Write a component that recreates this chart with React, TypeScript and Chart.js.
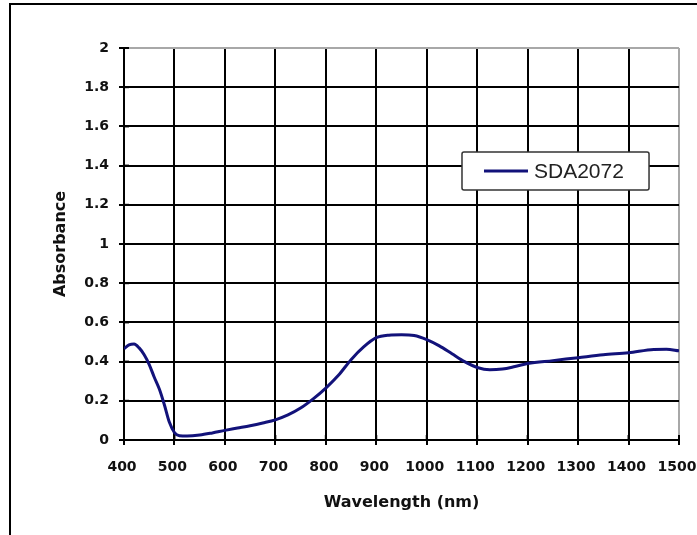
import React, { useEffect, useRef } from 'react';
import { Chart, registerables } from 'chart.js';

Chart.register(...registerables);

const seriesLabel = 'SDA2072';
const xAxisTitle = 'Wavelength (nm)';
const yAxisTitle = 'Absorbance';

const wavelengths = [
  400, 410, 420, 430, 440, 450, 460, 470, 480, 490, 500, 510, 525, 550, 575, 600, 625, 650, 675, 700,
  725, 750, 775, 800, 825, 850, 875, 900, 925, 950, 975, 1000, 1025, 1050, 1075, 1100, 1125, 1150,
  1175, 1200, 1250, 1300, 1350, 1400, 1450, 1475, 1500,
];
const absorbance = [
  0.465, 0.485, 0.49, 0.47, 0.435, 0.385, 0.32, 0.26, 0.18, 0.09, 0.038, 0.022, 0.02, 0.025, 0.036, 0.049,
  0.061, 0.073, 0.087, 0.103, 0.128, 0.163, 0.21, 0.265, 0.33, 0.41, 0.475, 0.522, 0.535, 0.537, 0.533, 0.512,
  0.48, 0.44, 0.4, 0.37, 0.358, 0.362, 0.375, 0.39, 0.405, 0.42, 0.435, 0.445, 0.462, 0.463, 0.455,
];

const xTickLabels = ['400', '500', '600', '700', '800', '900', '1000', '1100', '1200', '1300', '1400', '1500'];
const yTickLabels = ['0', '0.2', '0.4', '0.6', '0.8', '1', '1.2', '1.4', '1.6', '1.8', '2'];

const LINE_COLOR = '#12127a';
const GRID_COLOR = '#000000';
const EDGE_COLOR = '#a8a8a8';
const TICK_FONT = { family: "'DejaVu Sans', sans-serif", size: 14, weight: 'bold' as const };
const TITLE_FONT = { family: "'DejaVu Sans', sans-serif", size: 16, weight: 'bold' as const };

const innerTicksPlugin = {
  id: 'innerTicks',
  afterDatasetsDraw(chart: any) {
    const { ctx, chartArea, scales } = chart;
    ctx.save();
    ctx.strokeStyle = '#000';
    ctx.lineWidth = 2;
    scales.y.ticks.forEach((_t: any, i: number) => {
      const py = scales.y.getPixelForTick(i);
      ctx.beginPath();
      ctx.moveTo(chartArea.left, py);
      ctx.lineTo(chartArea.left + 5, py);
      ctx.stroke();
    });
    scales.x.ticks.forEach((_t: any, i: number) => {
      const px = scales.x.getPixelForTick(i);
      ctx.beginPath();
      ctx.moveTo(px, chartArea.bottom);
      ctx.lineTo(px, chartArea.bottom - 5);
      ctx.stroke();
    });
    ctx.restore();
  },
};

const boxLegendPlugin = {
  id: 'boxLegend',
  afterDraw(chart: any) {
    const { ctx, chartArea } = chart;
    const ds = chart.data.datasets[0];
    const w = chartArea.right - chartArea.left;
    const h = chartArea.bottom - chartArea.top;
    const x0 = chartArea.left + w * 0.609;
    const x1 = chartArea.left + w * 0.946;
    const y0 = chartArea.top + h * 0.265;
    const y1 = chartArea.top + h * 0.362;
    const cy = (y0 + y1) / 2;
    ctx.save();
    ctx.fillStyle = '#ffffff';
    ctx.strokeStyle = '#333333';
    ctx.lineWidth = 1.5;
    ctx.beginPath();
    if (ctx.roundRect) ctx.roundRect(x0, y0, x1 - x0, y1 - y0, 2);
    else ctx.rect(x0, y0, x1 - x0, y1 - y0);
    ctx.fill();
    ctx.stroke();
    ctx.strokeStyle = ds.borderColor;
    ctx.lineWidth = 3;
    ctx.beginPath();
    ctx.moveTo(x0 + 22, cy);
    ctx.lineTo(x0 + 66, cy);
    ctx.stroke();
    ctx.fillStyle = '#222222';
    ctx.font = "21px 'Liberation Sans', Arial, sans-serif";
    ctx.textBaseline = 'middle';
    ctx.textAlign = 'left';
    ctx.fillText(ds.label, x0 + 72, cy + 1);
    ctx.restore();
  },
};

export default function App() {
  const canvasRef = useRef<HTMLCanvasElement | null>(null);

  useEffect(() => {
    if (!canvasRef.current) return;
    const points = wavelengths.map((x, i) => ({ x, y: absorbance[i] }));
    const chart = new Chart(canvasRef.current, {
      type: 'line',
      data: {
        datasets: [
          {
            label: seriesLabel,
            data: points,
            borderColor: LINE_COLOR,
            backgroundColor: LINE_COLOR,
            borderWidth: 3,
            pointRadius: 0,
            cubicInterpolationMode: 'monotone',
            fill: false,
          },
        ],
      },
      options: {
        animation: false,
        responsive: false,
        devicePixelRatio: 1,
        layout: { padding: { left: 0, top: 48, right: 61, bottom: 0 } },
        plugins: {
          legend: { display: false },
          tooltip: { enabled: false },
        },
        scales: {
          x: {
            type: 'linear',
            min: 400,
            max: 1500,
            afterFit: (s: any) => {
              s.height = 95;
            },
            ticks: {
              stepSize: 100,
              font: TICK_FONT,
              color: '#111',
              padding: 14,
              labelOffset: -2,
              maxRotation: 0,
              autoSkip: false,
              callback: (_v: any, i: number) => xTickLabels[i],
            },
            grid: {
              color: (c: any) => (c.index === xTickLabels.length - 1 ? EDGE_COLOR : GRID_COLOR),
              lineWidth: 2,
              tickLength: 5,
              tickColor: '#000',
              tickWidth: 2,
            },
            border: { display: true, color: '#000', width: 2 },
            title: {
              display: true,
              text: xAxisTitle,
              font: TITLE_FONT,
              color: '#111',
              padding: { top: 0, bottom: 23 },
            },
          },
          y: {
            type: 'linear',
            min: 0,
            max: 2,
            afterFit: (s: any) => {
              s.width = 124;
            },
            ticks: {
              stepSize: 0.2,
              font: TICK_FONT,
              color: '#111',
              padding: 10,
              autoSkip: false,
              callback: (_v: any, i: number) => yTickLabels[i],
            },
            grid: {
              color: (c: any) => (c.index === yTickLabels.length - 1 ? EDGE_COLOR : GRID_COLOR),
              lineWidth: 2,
              tickLength: 5,
              tickColor: '#000',
              tickWidth: 2,
            },
            border: { display: true, color: '#000', width: 2 },
            title: {
              display: true,
              text: yAxisTitle,
              font: TITLE_FONT,
              color: '#111',
              padding: { top: 51, bottom: 0 },
            },
          },
        },
      },
      plugins: [innerTicksPlugin, boxLegendPlugin],
    } as any);
    return () => chart.destroy();
  }, []);

  return (
    <div
      style={{
        position: 'fixed',
        left: 0,
        top: 0,
        width: 697,
        height: 535,
        overflow: 'hidden',
        background: '#ffffff',
      }}
    >
      <div
        style={{
          position: 'absolute',
          left: 9,
          top: 3,
          width: 760,
          height: 600,
          borderTop: '2px solid #000',
          borderLeft: '2px solid #000',
        }}
      />
      <canvas
        ref={canvasRef}
        width={740}
        height={535}
        style={{ position: 'absolute', left: 0, top: 0, width: 740, height: 535 }}
      />
    </div>
  );
}
